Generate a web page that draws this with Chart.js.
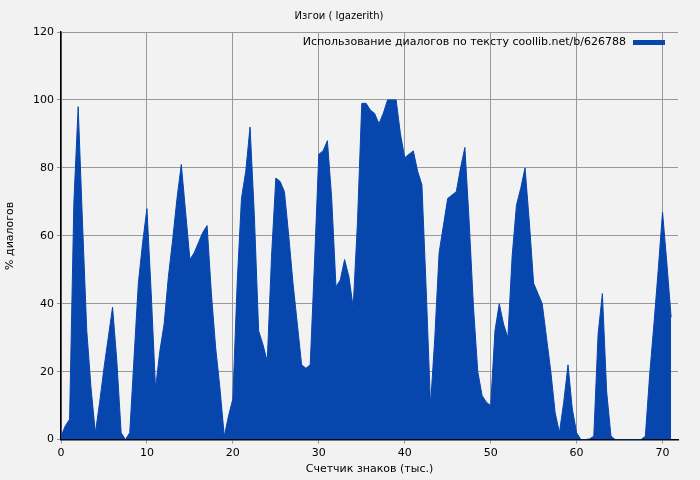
<!DOCTYPE html>
<html><head><meta charset="utf-8">
<script src="https://cdn.jsdelivr.net/npm/chart.js@4/dist/chart.umd.min.js"></script>
<style>html,body{margin:0;background:#f2f2f2}#wrap{width:700px;height:480px}</style>
</head><body><div id="wrap"><canvas id="c" width="700" height="480"></canvas></div>
<script>
/* Изгои — использование диалогов, шаг 0.5 тыс. знаков */
var STEP = 0.5;
var VALUES = [1,4,6,70,98,64,32,15,2,11,21,30,39,23,2,0,2,24,46,58,68,43,15,26,34,48,59,71,81,67,
  53,55,58,61,63,43,27,15,1,7,12,46,71,79,92,66,32,28,23,54,77,76,73,60,46,34,22,21,22,52,
  84,85,88,71,45,47,53,48,39,64,99,99,97,96,93,96,100,100,100,90,83,84,85,79,75,44,10,30,55,63,
  71,72,73,80,86,64,39,20,13,11,10,32,40,34,30,54,69,74,80,64,46,43,40,30,20,8,2,11,22,9,
  2,0,0,0.2,1,31,43,14,1,0,0,0,0,0,0,0,1,19,34,50,67,52,36];
var X_TICKS = [0,10,20,30,40,50,60,70];
var Y_TICKS = [0,20,40,60,80,100,120];
var TITLE = 'Изгои ( Igazerith)';
var LEGEND = 'Использование диалогов по тексту coollib.net/b/626788';
var FONT = "'DejaVu Sans', sans-serif";
var BLUE = '#0746ad';

var points = VALUES.map(function(v, i) { return { x: i * STEP, y: v }; });

var legendPlugin = {
  id: 'legendBox',
  afterDraw: function(chart) {
    var c = chart.ctx, a = chart.chartArea;
    c.save();
    c.font = '11px ' + FONT; c.fillStyle = '#000'; c.textAlign = 'right'; c.textBaseline = 'middle';
    c.fillText(LEGEND, a.right - 52, a.top + 10);
    c.fillStyle = BLUE; c.fillRect(a.right - 45, a.top + 8, 32, 5);
    c.restore();
  }
};

new Chart(document.getElementById('c').getContext('2d'), {
  type: 'line',
  data: { datasets: [{ label: LEGEND, data: points, borderColor: BLUE, borderWidth: 1, backgroundColor: BLUE, fill: 'origin', pointRadius: 0, tension: 0 }] },
  options: {
    responsive: false, animation: false,
    layout: { padding: { top: 6, right: 22, left: 0, bottom: 0 } },
    plugins: {
      legend: { display: false }, tooltip: { enabled: false },
      title: { display: true, text: TITLE, color: '#000', font: { family: FONT, size: 10, weight: 'normal' }, padding: { top: 4, bottom: 10 } }
    },
    scales: {
      x: { type: 'linear', min: 0, max: 71.8, afterBuildTicks: function(s) { s.ticks = X_TICKS.map(function(v) { return { value: v }; }); },
        grid: { color: '#999', lineWidth: 1, tickLength: 4, drawOnChartArea: true }, border: { color: '#000', width: 1.5, dash: [] },
        ticks: { color: '#000', font: { family: FONT, size: 11 }, maxRotation: 0 },
        title: { display: true, text: 'Счетчик знаков (тыс.)', color: '#000', font: { family: FONT, size: 11 }, padding: { top: 0 } } },
      y: { min: 0, max: 120, afterBuildTicks: function(s) { s.ticks = Y_TICKS.map(function(v) { return { value: v }; }); },
        afterFit: function(s) { s.width = 61; },
        grid: { color: '#999', tickLength: 4 }, border: { color: '#000', width: 1.5 },
        ticks: { color: '#000', font: { family: FONT, size: 11 } },
        title: { display: true, text: '% диалогов', color: '#000', font: { family: FONT, size: 11 } } }
    }
  },
  plugins: [legendPlugin, {
    id: 'bg',
    beforeDraw: function(chart) { var c = chart.ctx; c.save(); c.fillStyle = '#f2f2f2'; c.fillRect(0, 0, chart.width, chart.height); c.restore(); },
    beforeDatasetsDraw: function(chart) {
      // пунктирная сетка
    }
  }]
});
Chart.defaults.borderColor = '#999';
</script></body></html>
